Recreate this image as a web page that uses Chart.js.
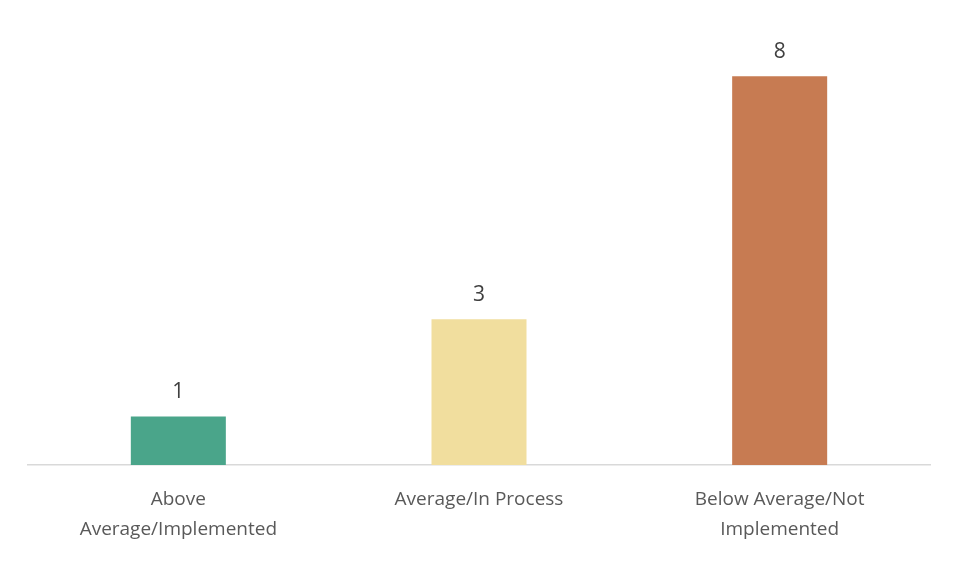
<!DOCTYPE html>
<html><head><meta charset="utf-8">
<script src="https://cdn.jsdelivr.net/npm/chart.js@4/dist/chart.umd.min.js"></script>
<style>html,body{margin:0;background:#fff}#w{width:960px;height:581px}</style>
</head><body><div id="w"><canvas id="c"></canvas></div>
<script>
const categories = [["Above","Average/Implemented"],"Average/In Process",["Below Average/Not","Implemented"]];
const values = [1,3,8];
const colors = ["#4aa58a","#f1de9e","#c77b52"];
const labelPlugin = {id:'vals',afterDatasetsDraw(ch){const ctx=ch.ctx;ctx.save();ctx.font='21px "Open Sans", sans-serif';ctx.fillStyle='#404040';ctx.textAlign='center';ctx.textBaseline='bottom';
ch.getDatasetMeta(0).data.forEach((b,i)=>{ctx.fillText(String(values[i]),b.x,b.y-14);});ctx.restore();}};
new Chart(document.getElementById('c'),{type:'bar',
data:{labels:categories,datasets:[{data:values,backgroundColor:colors,barPercentage:0.316,categoryPercentage:1}]},
options:{responsive:true,maintainAspectRatio:false,animation:false,
layout:{padding:{left:28,right:30,top:18,bottom:17}},
plugins:{legend:{display:false},tooltip:{enabled:false}},
scales:{x:{grid:{display:false,drawTicks:false},border:{color:'#d9d9d9',width:1.5},
ticks:{color:'#595959',padding:20,font:{family:'"Open Sans", sans-serif',size:19,lineHeight:1.55}}},
y:{display:false,min:0,max:9.2}}},
plugins:[labelPlugin]});
</script></body></html>
